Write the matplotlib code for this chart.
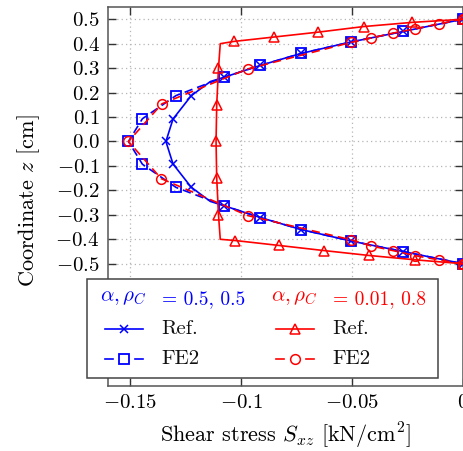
import matplotlib
matplotlib.use("Agg")
import matplotlib.pyplot as plt
from matplotlib.lines import Line2D
from matplotlib.patches import Rectangle

plt.rcParams['mathtext.fontset'] = 'cm'
plt.rcParams['font.family'] = ['cmr10', 'DejaVu Serif']
plt.rcParams['axes.unicode_minus'] = False

# ---- data ----
z_blue_ref = [0.5, 0.45, 0.407, 0.36, 0.311, 0.263, 0.245, 0.187, 0.092, 0.0,
              -0.092, -0.187, -0.245, -0.263, -0.311, -0.36, -0.407, -0.45, -0.5]
s_blue_ref = [0.0, -0.027, -0.0505, -0.073, -0.0914, -0.1076, -0.1139, -0.1225, -0.1307, -0.1339,
              -0.1307, -0.1225, -0.1139, -0.1076, -0.0914, -0.073, -0.0505, -0.027, 0.0]
blue_ref_marks = [0, 1, 2, 3, 4, 5, 7, 8, 9, 10, 11, 13, 14, 15, 16, 17, 18]

z_blue_fe2 = [0.5, 0.45, 0.407, 0.36, 0.311, 0.263, 0.188, 0.093, 0.0,
              -0.093, -0.188, -0.263, -0.311, -0.36, -0.407, -0.45, -0.5]
s_blue_fe2 = [0.0, -0.027, -0.0505, -0.073, -0.0914, -0.1076, -0.1293, -0.1445, -0.1508,
              -0.1445, -0.1293, -0.1076, -0.0914, -0.073, -0.0505, -0.027, 0.0]

z_red_ref = [0.5, 0.487, 0.470, 0.447, 0.427, 0.409, 0.4, 0.30, 0.15, 0.0,
             -0.15, -0.30, -0.4, -0.405, -0.425, -0.446, -0.466, -0.484, -0.5]
s_red_ref = [0.0, -0.023, -0.0448, -0.0654, -0.0854, -0.1034, -0.1094, -0.1102, -0.111, -0.1113,
             -0.111, -0.1102, -0.1094, -0.1027, -0.0831, -0.0628, -0.0425, -0.0215, 0.0]
red_ref_marks = [0, 1, 2, 3, 4, 5, 7, 8, 9, 10, 11, 13, 14, 15, 16, 17, 18]

z_red_fe2 = [0.5, 0.481, 0.461, 0.443, 0.423, 0.405, 0.297, 0.154, 0.0,
             -0.152, -0.303, -0.402, -0.427, -0.446, -0.467, -0.484, -0.5]
s_red_fe2 = [0.0, -0.011, -0.0215, -0.0317, -0.0415, -0.0505, -0.0969, -0.1357, -0.1508,
             -0.136, -0.097, -0.0505, -0.0415, -0.0317, -0.0215, -0.011, 0.0]

xticks = [-0.15, -0.1, -0.05, 0.0]
xticklabels = [r'$-0.15$', r'$-0.1$', r'$-0.05$', r'$0$']
yticks = [0.5, 0.4, 0.3, 0.2, 0.1, 0.0, -0.1, -0.2, -0.3, -0.4, -0.5]
yticklabels = [r'$%.1f$' % v for v in yticks]

header_blue = (r'$\alpha,\rho_C$', '= 0.5, 0.5')
header_red = (r'$\alpha,\rho_C$', '= 0.01, 0.8')
entry_labels = ['Ref.', 'FE2']

BLUE = '#0000ff'
RED = '#ff0000'
FS = 15
FS_LABEL = 16
FS_HEAD = 14

W, H = 464, 451
fig = plt.figure(figsize=(W / 100, H / 100), dpi=100)
ax = fig.add_axes([108 / W, (H - 386) / H, 355 / W, 379 / H])

lw = 1.2
dash = (5, 3)
ax.plot(s_blue_ref, z_blue_ref, color=BLUE, lw=lw, marker='x', ms=5.5, mew=1.1,
        markevery=blue_ref_marks, zorder=3)
ax.plot(s_blue_fe2, z_blue_fe2, color=BLUE, lw=lw, ls='--', dashes=dash, marker='s', ms=6.5,
        mfc='none', mew=1.3, zorder=3)
ax.plot(s_red_ref, z_red_ref, color=RED, lw=lw, marker='^', ms=6.5, mfc='none', mew=1.1,
        markevery=red_ref_marks, zorder=4)
ax.plot(s_red_fe2, z_red_fe2, color=RED, lw=lw, ls='--', dashes=dash, marker='o', ms=7,
        mfc='none', mew=1.1, zorder=4)

ax.set_xlim(-0.16, 0.0)
ax.set_ylim(-1.0, 0.55)
ax.set_xticks(xticks)
ax.set_xticklabels(xticklabels, fontsize=FS)
ax.set_yticks(yticks)
ax.set_yticklabels(yticklabels, fontsize=FS)
ax.tick_params(direction='in', length=6, width=1, top=True, right=True,
               color='#333333', pad=6)
ax.grid(True, color='#b5b5b5', lw=0.9, ls=(0, (1, 2.5)))
for sp in ax.spines.values():
    sp.set_color('#555555')
    sp.set_linewidth(1.1)

ax.set_xlabel(r'Shear stress $S_{xz}$ [kN/cm$^2$]', fontsize=FS_LABEL)
ax.set_ylabel(r'Coordinate $z$ [cm]', fontsize=FS_LABEL)
ax.xaxis.set_label_coords(0.5, (386 - 421) / 379)
ax.yaxis.set_label_coords((42 - 108) / 355, (386 - 201) / 379)

# ---- legend box (figure pixel coordinates) ----
def fx(px):
    return px / W

def fy(py):
    return (H - py) / H

frame = Rectangle((fx(86.7), fy(378.3)), fx(438) - fx(86.7), fy(279.3) - fy(378.3),
                  transform=fig.transFigure, facecolor='white', edgecolor='#444444',
                  lw=1.1, zorder=10)
fig.patches.append(frame)

rows = [298, 329, 359]
col_hx = [105, 276]
col_tx = [161.7, 332.7]
hl = 38
headers = [header_blue, header_red]
colors = [BLUE, RED]
styles = [[('-', 'x', 5.5, 1.1), ('--', 's', 6.5, 1.3)],
          [('-', '^', 6.5, 1.1), ('--', 'o', 7, 1.1)]]
for c in range(2):
    fig.text(fx(col_hx[c] - 5), fy(rows[0]), headers[c][0], color=colors[c], fontsize=FS,
             va='center', ha='left', zorder=11)
    fig.text(fx(col_tx[c]), fy(rows[0] + 1), headers[c][1], color=colors[c], fontsize=FS_HEAD,
             va='center', ha='left', zorder=11)
    for r in range(2):
        ls, mk, ms, mew = styles[c][r]
        y = fy(rows[r + 1])
        x0, x1 = col_hx[c], col_hx[c] + hl
        if ls == '-':
            segs = [(x0, x1)]
        else:
            segs = [(x0, x0 + 8), (x1 - 8, x1)]
        for a, b in segs:
            fig.add_artist(Line2D([fx(a), fx(b)], [y, y], transform=fig.transFigure,
                                  color=colors[c], lw=lw, ls='-', zorder=11))
        fig.add_artist(Line2D([fx((x0 + x1) / 2)], [y], transform=fig.transFigure,
                              color=colors[c], marker=mk, ms=ms, mew=mew, mfc='none',
                              ls='none', zorder=12))
        fig.text(fx(col_tx[c]), y, entry_labels[r], color='#111111', fontsize=FS,
                 va='center', ha='left', zorder=11)

fig.savefig('out.png', dpi=100)
